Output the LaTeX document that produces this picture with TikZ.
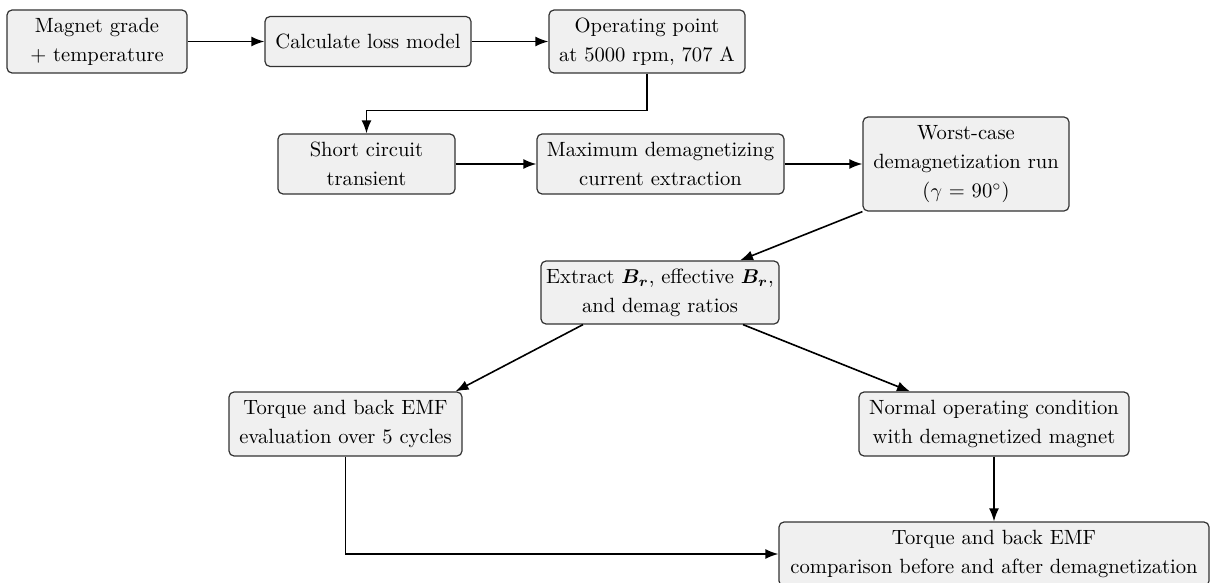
\documentclass[tikz,border=0pt]{standalone}
\usepackage{amsmath,bm}
\usetikzlibrary{arrows.meta,calc}
\begin{document}
\begin{tikzpicture}[x=0.5pt,y=-0.5pt,
  box/.style={draw=black!80,fill=black!6,rounded corners=2.5pt,line width=0.6pt,align=center,inner sep=0pt,font=\fontsize{10.3}{14.5}\selectfont},
  arr/.style={-{Latex[length=6.5pt,width=5pt]},line width=0.8pt}]
\useasboundingbox (0,0) rectangle (1210,583);
\node[box,minimum width=90pt,minimum height=31.5pt] (mag) at (97,41.5) {Magnet grade\\+ temperature};
\node[box,minimum width=103pt,minimum height=25pt] (calc) at (368,41.5) {Calculate loss model};
\node[box,minimum width=98pt,minimum height=31.5pt] (op) at (647,41.5) {Operating point\\at 5000 rpm, 707 A};
\node[box,minimum width=88.5pt,minimum height=30pt] (sc) at (366.5,164) {Short circuit\\transient};
\node[box,minimum width=123.5pt,minimum height=30pt] (mx) at (660.5,164) {Maximum demagnetizing\\current extraction};
\node[box,minimum width=103pt,minimum height=47pt] (wc) at (966,164) {Worst-case\\demagnetization run\\($\gamma$ = 90$^\circ$)};
\node[box,minimum width=119pt,minimum height=31.5pt] (ex) at (660,292.5) {Extract $\bm{B_r}$, effective $\bm{B_r}$,\\and demag ratios};
\node[box,minimum width=116.5pt,minimum height=32pt] (tq) at (345.5,424) {Torque and back EMF\\evaluation over 5 cycles};
\node[box,minimum width=135pt,minimum height=32pt] (no) at (994,424) {Normal operating condition\\with demagnetized magnet};
\node[box,minimum width=215pt,minimum height=32pt] (bt) at (994,554) {Torque and back EMF\\comparison before and after demagnetization};
\draw[arr] (mag.east) -- (calc.west);
\draw[arr] (calc.east) -- (op.west);
\draw[arr] (op.south) -- ++(0,37) -| (sc.north);
\draw[arr] (sc.east) -- (mx.west);
\draw[arr] (mx.east) -- (wc.west);
\draw[arr] (wc.south west) -- ($(ex.north)+(80,0)$);
\draw[arr] ($(ex.south)+(-77,0)$) -- ($(tq.north)+(110,0)$);
\draw[arr] ($(ex.south)+(83,0)$) -- ($(no.north)+(-84,0)$);
\draw[arr] (no.south) -- (bt.north);
\draw[arr] (tq.south) |- (bt.west);
\end{tikzpicture}
\end{document}
